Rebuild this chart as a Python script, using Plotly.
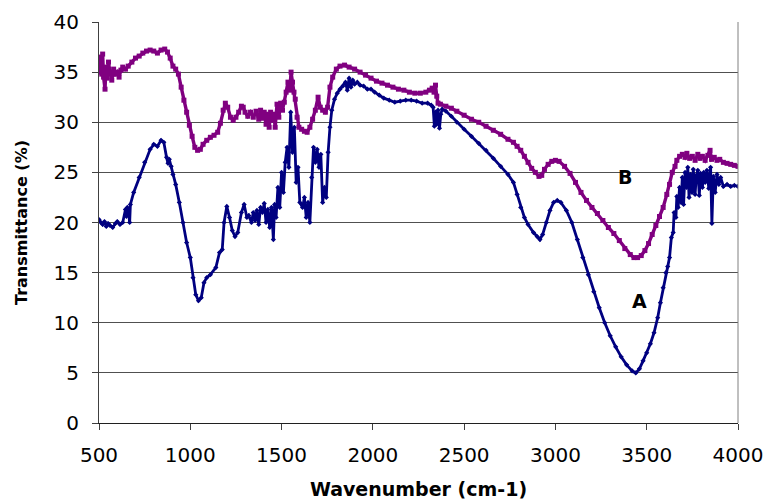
import plotly.graph_objects as go

# Series A (navy)
a_x = [500,510,520,530,540,550,560,575,590,600,615,630,645,650,655,660,668,672,690,720,750,780,800,820,840,855,870,878,885,895,905,920,940,960,980,1000,1015,1030,1045,1060,1075,1090,1110,1140,1160,1175,1185,1200,1215,1230,1245,1260,1280,1295,1310,1320,1335,1345,1355,1365,1375,1385,1395,1405,1415,1425,1435,1445,1455,1462,1470,1480,1490,1500,1510,1520,1530,1540,1550,1560,1570,1580,1590,1600,1615,1625,1635,1645,1655,1665,1675,1685,1695,1705,1715,1725,1735,1745,1755,1765,1775,1790,1805,1820,1835,1850,1860,1870,1880,1890,1900,1915,1930,1950,1970,1990,2010,2035,2060,2090,2120,2150,2180,2210,2240,2270,2300,2320,2330,2337,2343,2350,2357,2365,2372,2380,2400,2430,2460,2500,2540,2580,2620,2660,2700,2740,2770,2790,2810,2830,2850,2880,2900,2915,2930,2950,2970,2990,3010,3030,3060,3090,3120,3150,3180,3210,3240,3270,3300,3330,3360,3390,3420,3440,3460,3480,3500,3520,3540,3560,3575,3590,3605,3615,3625,3635,3645,3650,3660,3665,3672,3680,3688,3695,3702,3710,3718,3725,3732,3740,3748,3755,3765,3772,3780,3788,3795,3805,3812,3820,3830,3840,3850,3857,3865,3875,3885,3895,3905,3920,3940,3960,3980,4000]
a_y = [20.3,20.0,19.8,20.1,19.6,19.9,19.7,19.5,19.9,20.1,19.8,20.0,21.3,20.6,21.5,21.3,20.0,21.8,23.0,24.5,26.0,27.3,27.8,27.6,28.2,28.0,26.5,25.9,26.3,25.6,24.8,23.8,22.0,20.0,18.0,16.5,14.5,12.8,12.2,12.5,14.0,14.5,14.8,15.5,17.0,17.3,20.0,21.6,20.5,19.2,18.6,19.0,21.0,21.8,20.5,20.7,20.0,21.0,20.2,21.2,19.8,21.5,21.0,21.9,20.0,21.3,19.5,21.5,18.3,21.8,20.5,23.5,21.5,25.0,23.0,26.0,27.5,25.5,31.0,27.0,29.5,24.0,25.5,22.0,21.5,22.5,20.5,22.0,20.0,24.5,27.5,26.0,27.3,25.5,26.8,22.0,23.5,22.5,27.0,29.5,31.2,32.3,32.9,33.3,33.6,34.0,33.2,34.4,33.5,34.2,33.8,34.0,33.7,33.6,33.3,33.3,33.0,32.7,32.4,32.2,32.0,32.1,32.2,32.2,32.1,31.9,31.9,31.7,31.5,29.6,31.0,29.8,31.2,29.4,30.8,31.3,31.1,30.6,30.0,29.3,28.6,27.9,27.2,26.4,25.6,24.8,24.0,22.8,21.5,20.5,19.8,19.0,18.6,18.3,18.8,20.0,21.2,22.0,22.2,22.0,21.2,20.0,18.3,16.5,14.8,13.1,11.5,10.0,8.7,7.6,6.6,5.8,5.2,5.0,5.4,6.2,7.0,7.9,9.0,10.5,12.0,13.5,15.0,15.6,16.5,18.5,19.0,21.0,20.5,22.6,21.5,23.5,22.0,24.5,21.8,25.0,23.5,25.5,22.5,24.8,23.0,25.3,22.8,24.7,25.2,22.7,24.9,23.5,25.0,24.0,25.2,23.4,25.5,19.9,24.6,23.0,24.8,23.8,24.5,23.6,23.8,23.6,23.7,23.6]

# Series B (purple)
b_x = [500,505,510,515,520,525,533,538,545,552,560,570,580,590,600,610,620,630,645,660,680,700,720,740,760,780,800,820,840,860,875,890,905,920,935,950,965,980,995,1010,1025,1040,1055,1070,1090,1110,1130,1150,1165,1180,1192,1205,1220,1235,1250,1265,1280,1290,1300,1315,1330,1345,1360,1375,1385,1395,1405,1415,1425,1432,1440,1450,1458,1465,1475,1485,1495,1505,1515,1525,1535,1545,1552,1560,1568,1575,1585,1595,1610,1625,1640,1655,1670,1685,1700,1712,1725,1740,1752,1765,1780,1800,1820,1845,1870,1900,1930,1960,1990,2020,2050,2080,2110,2140,2170,2200,2230,2260,2290,2310,2325,2335,2343,2350,2357,2370,2400,2430,2460,2500,2540,2580,2620,2660,2700,2740,2770,2790,2810,2830,2850,2870,2890,2910,2925,2940,2960,2980,3000,3020,3050,3080,3110,3140,3170,3200,3230,3260,3290,3320,3350,3380,3410,3430,3450,3470,3490,3510,3530,3550,3570,3590,3610,3625,3640,3655,3665,3680,3695,3710,3720,3735,3750,3765,3780,3792,3805,3820,3835,3847,3855,3870,3885,3900,3920,3940,3960,3980,4000]
b_y = [36.0,35.0,36.5,34.8,36.8,34.5,33.3,35.5,34.4,36.0,35.0,34.2,35.3,34.8,35.0,34.5,35.2,35.5,35.3,35.6,36.0,36.4,36.6,36.9,37.1,37.2,37.1,36.9,37.2,37.3,37.0,36.4,35.6,35.3,34.8,33.5,32.2,31.0,29.7,28.6,27.5,27.2,27.3,27.8,28.2,28.5,28.7,29.0,29.9,31.2,31.9,31.5,30.5,30.2,30.5,31.0,31.6,31.5,31.0,30.6,31.0,30.5,31.1,30.3,31.2,30.4,31.0,29.8,30.8,29.5,31.0,30.2,30.8,29.5,31.8,30.5,31.9,31.2,32.0,33.0,34.0,33.2,35.0,34.0,33.0,32.3,30.5,29.5,29.3,29.1,29.0,29.5,30.3,31.2,32.5,31.5,31.2,31.0,31.5,33.5,34.5,35.3,35.6,35.7,35.5,35.3,35.0,34.7,34.4,34.1,33.9,33.7,33.5,33.3,33.2,33.0,32.9,32.9,33.0,33.2,33.4,33.0,33.7,32.6,31.9,31.8,31.6,31.4,31.1,30.7,30.3,30.0,29.6,29.2,28.8,28.3,28.0,27.6,27.2,26.6,26.0,25.4,25.0,24.6,24.7,25.3,25.8,26.1,26.2,26.1,25.6,24.9,24.0,23.0,22.2,21.5,20.9,20.2,19.5,18.9,18.2,17.4,16.8,16.5,16.5,16.7,17.2,17.9,18.8,19.7,20.6,21.5,22.8,23.8,25.0,25.6,26.2,26.6,26.8,26.5,26.9,26.4,26.6,26.2,26.8,26.4,26.6,26.2,26.7,27.2,26.3,26.5,26.2,26.3,26.0,25.9,25.8,25.7,25.6]

x_ticks = [500,1000,1500,2000,2500,3000,3500,4000]
y_ticks = [0,5,10,15,20,25,30,35,40]

NAVY = "#000080"
PURPLE = "#800080"
FONT = "DejaVu Sans, Verdana, Arial"

fig = go.Figure()
fig.add_trace(go.Scatter(x=a_x, y=a_y, mode="lines+markers", name="A",
                         line=dict(color=NAVY, width=2.8),
                         marker=dict(color=NAVY, size=4, symbol="diamond")))
fig.add_trace(go.Scatter(x=b_x, y=b_y, mode="lines+markers", name="B",
                         line=dict(color=PURPLE, width=3.4),
                         marker=dict(color=PURPLE, size=5, symbol="square")))

fig.add_annotation(x=3381, y=24.5, text="<b>B</b>", showarrow=False,
                   font=dict(family=FONT, size=19, color="black"))
fig.add_annotation(x=3458, y=12.2, text="<b>A</b>", showarrow=False,
                   font=dict(family=FONT, size=19, color="black"))

# right border of plot area
fig.add_shape(type="line", xref="paper", yref="paper", x0=1, x1=1, y0=0, y1=1,
              line=dict(color="#808080", width=1))

fig.update_layout(
    width=766, height=500,
    margin=dict(l=99, r=28, t=22, b=77),
    paper_bgcolor="white", plot_bgcolor="white",
    showlegend=False,
    font=dict(family=FONT, size=20, color="black"),
)
fig.update_xaxes(range=[500, 4000], tickvals=x_ticks, ticks="outside", ticklen=6,
                 tickcolor="#404040", showline=True, linecolor="#202020", linewidth=1.2,
                 showgrid=False, zeroline=False, automargin=False,
                 tickfont=dict(size=20), ticklabelstandoff=8,
                 title=dict(text="<b>Wavenumber (cm-1)</b>", font=dict(size=19), standoff=16))
fig.update_yaxes(range=[0, 40], tickvals=y_ticks, ticks="outside", ticklen=6,
                 tickcolor="#404040", showline=True, linecolor="#404040", linewidth=1.2,
                 showgrid=True, gridcolor="#505050", gridwidth=1, zeroline=False,
                 automargin=False, tickfont=dict(size=20), ticklabelstandoff=9,
                 title=dict(text="<b>Transmittance (%)</b>", font=dict(size=16), standoff=21))

fig.write_html("out.html")
